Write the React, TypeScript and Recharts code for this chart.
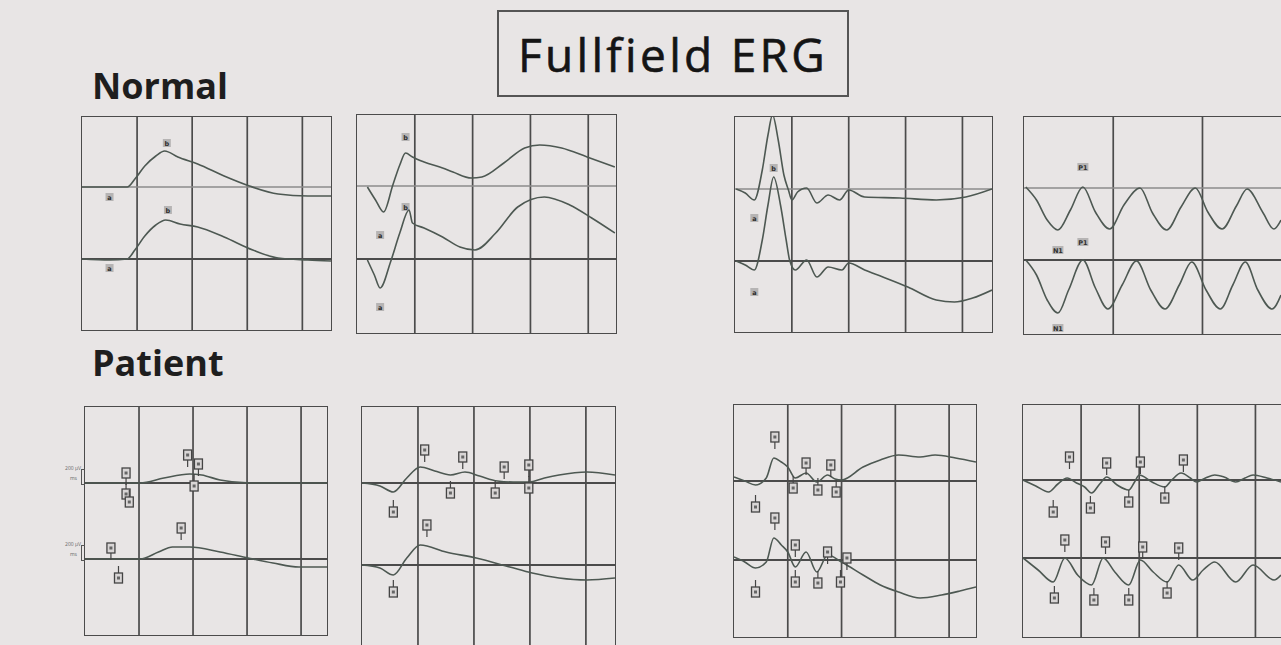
import React from 'react';
import { ComposedChart, Line, Scatter, XAxis, YAxis, ReferenceLine } from 'recharts';

const BG = '#e8e5e5';
const INK = '#4b4b4b';
const TRACE = '#4d5852';

// Every trace: [time ms, amplitude µV relative to its own baseline]
// Normal, rod response
const ROD_N_TOP = [[0, 0], [25, 0], [41, 0], [48, 32], [57, 84], [67, 124], [75, 144], [87, 120], [105, 92], [129, 44], [152, 4], [178, -28], [205, -36], [226, -36]];
const ROD_N_BOT = [[0, 0], [25, -4], [41, 0], [48, 36], [57, 92], [67, 136], [76, 156], [89, 140], [105, 128], [129, 88], [155, 36], [178, 4], [205, -4], [226, -8]];
const ROD_N_MARKS = [
  { x: 25, a: -40, t: 0, label: 'a' },
  { x: 77, a: 176, t: 0, label: 'b' },
  { x: 25, a: -36, t: 1, label: 'a' },
  { x: 78, a: 196, t: 1, label: 'b' },
];

// Normal, mixed rod-cone response
const MIX_N_TOP = [[9, -4], [16, -56], [23, -104], [31, 4], [37, 84], [42, 132], [48, 116], [58, 96], [74, 72], [83, 56], [99, 32], [108, 36], [127, 92], [145, 152], [158, 164], [177, 152], [199, 116], [223, 76]];
const MIX_N_BOT = [[9, -4], [15, -64], [20, -116], [29, -12], [37, 104], [45, 196], [48, 144], [58, 124], [74, 88], [89, 48], [102, 36], [120, 104], [139, 208], [162, 248], [184, 216], [203, 164], [223, 104]];
const MIX_N_MARKS = [
  { x: 20, a: -196, t: 0, label: 'a' },
  { x: 42, a: 196, t: 0, label: 'b' },
  { x: 20, a: -192, t: 1, label: 'a' },
  { x: 42, a: 208, t: 1, label: 'b' },
];

// Normal, photopic single flash
const CONE_N_TOP = [[1, 0], [9, -16], [17, -44], [24, 76], [29, 216], [33, 296], [38, 196], [43, 56], [47, -4], [50, -44], [55, -12], [63, 4], [72, -56], [82, -24], [92, -44], [100, -4], [114, -32], [145, -36], [177, -44], [203, -32], [226, 0]];
const CONE_N_BOT = [[1, 0], [9, -16], [17, -36], [24, 84], [29, 224], [34, 336], [40, 224], [45, 84], [48, 4], [53, -36], [63, 4], [72, -64], [82, -24], [94, -36], [100, -8], [114, -36], [130, -64], [152, -104], [177, -156], [193, -164], [209, -148], [226, -116]];
const CONE_N_MARKS = [
  { x: 17, a: -116, t: 0, label: 'a' },
  { x: 34, a: 372, t: 1, label: 'b' },
  { x: 17, a: -124, t: 1, label: 'a' },
];

// Normal, 30 Hz flicker
const FLK_N_TOP = [[1, 4], [7, -48], [13, -128], [19, -168], [26, -88], [33, 4], [40, -96], [48, -164], [56, -68], [65, 0], [72, -100], [80, -168], [88, -76], [96, 0], [103, -96], [111, -164], [119, -72], [125, -4], [134, -100], [140, -164], [144, -128]];
const FLK_N_BOT = [[1, 0], [7, -60], [13, -160], [19, -212], [25, -120], [33, 0], [40, -112], [47, -196], [55, -100], [63, -4], [71, -120], [79, -196], [87, -100], [94, -8], [102, -120], [110, -196], [117, -100], [124, -8], [131, -120], [139, -196], [144, -140]];
const FLK_N_MARKS = [
  { x: 19, a: -248, t: 0, label: 'N1' },
  { x: 33, a: 84, t: 0, label: 'P1' },
  { x: 19, a: -272, t: 1, label: 'N1' },
  { x: 33, a: 72, t: 1, label: 'P1' },
];

// Patient, rod response
const ROD_P_TOP = [[0, 0], [51, 0], [73, 5], [97, 9], [108, 8], [125, 3], [153, 0], [224, 0]];
const ROD_P_BOT = [[0, 0], [51, 0], [68, 7], [81, 12], [97, 12], [125, 7], [151, 1], [174, -4], [198, -8], [224, -8]];
const ROD_P_MARKS = [
  { x: 38, a: 10, t: 0, dir: 'down' },
  { x: 38, a: -11, t: 0, dir: 'up' },
  { x: 41, a: -19, t: 0, dir: 'up' },
  { x: 95, a: 28, t: 0, dir: 'down' },
  { x: 105, a: 19, t: 0, dir: 'down' },
  { x: 101, a: -3, t: 0, dir: 'up' },
  { x: 24, a: 11, t: 1, dir: 'down' },
  { x: 31, a: -19, t: 1, dir: 'up' },
  { x: 89, a: 31, t: 1, dir: 'down' },
];

// Patient, mixed response
const MIX_P_TOP = [[0, 0], [16, -3], [28, -9], [40, 5], [52, 16], [65, 12], [79, 8], [92, 11], [105, 7], [121, 2], [135, 1], [149, 1], [163, 5], [176, 8], [201, 11], [226, 8]];
const MIX_P_BOT = [[0, 0], [16, -3], [28, -10], [40, 7], [52, 20], [75, 13], [102, 7], [132, -2], [152, -8], [176, -13], [201, -15], [226, -13]];
const MIX_P_MARKS = [
  { x: 28, a: -29, t: 0, dir: 'up' },
  { x: 56, a: 33, t: 0, dir: 'down' },
  { x: 79, a: -10, t: 0, dir: 'up' },
  { x: 90, a: 26, t: 0, dir: 'down' },
  { x: 119, a: -10, t: 0, dir: 'up' },
  { x: 127, a: 16, t: 0, dir: 'down' },
  { x: 149, a: 18, t: 0, dir: 'down' },
  { x: 149, a: -5, t: 0, dir: 'up' },
  { x: 28, a: -27, t: 1, dir: 'up' },
  { x: 58, a: 40, t: 1, dir: 'down' },
];

// Patient, photopic single flash
const CONE_P_TOP = [[0, 4], [10, 0], [20, -4], [30, 3], [37, 23], [44, 19], [50, 14], [57, 3], [67, 8], [77, -1], [87, 6], [94, 2], [100, 1], [120, 14], [136, 21], [153, 26], [173, 24], [187, 26], [206, 23], [225, 19]];
const CONE_P_BOT = [[0, 3], [10, -2], [20, -8], [30, -2], [37, 22], [44, 15], [50, 8], [57, -7], [67, 8], [77, -12], [87, 5], [100, -2], [120, -15], [136, -25], [153, -32], [173, -38], [193, -35], [210, -31], [225, -27]];
const CONE_P_MARKS = [
  { x: 20, a: -26, t: 0, dir: 'up' },
  { x: 38, a: 44, t: 0, dir: 'down' },
  { x: 55, a: -7, t: 0, dir: 'up' },
  { x: 67, a: 18, t: 0, dir: 'down' },
  { x: 78, a: -9, t: 0, dir: 'up' },
  { x: 90, a: 16, t: 0, dir: 'down' },
  { x: 95, a: -11, t: 0, dir: 'up' },
  { x: 20, a: -32, t: 1, dir: 'up' },
  { x: 38, a: 42, t: 1, dir: 'down' },
  { x: 57, a: 15, t: 1, dir: 'down' },
  { x: 57, a: -22, t: 1, dir: 'up' },
  { x: 78, a: -23, t: 1, dir: 'up' },
  { x: 87, a: 8, t: 1, dir: 'down' },
  { x: 99, a: -22, t: 1, dir: 'up' },
  { x: 105, a: 2, t: 1, dir: 'down' },
];

// Patient, 30 Hz flicker
const FLK_P_TOP = [[0, 0], [11, -6], [22, -12], [30, -4], [38, 2], [46, -3], [53, -7], [59, -13], [66, -4], [72, 3], [81, -5], [91, -10], [96, -2], [100, 5], [111, -2], [122, -7], [128, 0], [136, 7], [144, 2], [149, -2], [157, 2], [165, 5], [173, 3], [183, -2], [191, 2], [198, 5], [210, 2], [222, -2]];
const FLK_P_BOT = [[0, 0], [13, -12], [26, -24], [36, 0], [47, -17], [59, -27], [69, 0], [79, -14], [91, -27], [101, -2], [112, -14], [124, -24], [134, -7], [146, -22], [155, -12], [165, -4], [183, -24], [198, -7], [216, -22], [222, -17]];
const FLK_P_MARKS = [
  { x: 26, a: -32, t: 0, dir: 'up' },
  { x: 40, a: 23, t: 0, dir: 'down' },
  { x: 58, a: -28, t: 0, dir: 'up' },
  { x: 72, a: 17, t: 0, dir: 'down' },
  { x: 91, a: -22, t: 0, dir: 'up' },
  { x: 101, a: 18, t: 0, dir: 'down' },
  { x: 122, a: -18, t: 0, dir: 'up' },
  { x: 138, a: 20, t: 0, dir: 'down' },
  { x: 27, a: -40, t: 1, dir: 'up' },
  { x: 36, a: 18, t: 1, dir: 'down' },
  { x: 61, a: -42, t: 1, dir: 'up' },
  { x: 71, a: 16, t: 1, dir: 'down' },
  { x: 91, a: -42, t: 1, dir: 'up' },
  { x: 103, a: 11, t: 1, dir: 'down' },
  { x: 124, a: -35, t: 1, dir: 'up' },
  { x: 134, a: 10, t: 1, dir: 'down' },
];

const GRID_MS = [50, 100, 150, 200];
const FLICKER_GRID_MS = [50, 100];
// gain labels printed left of the patient rod traces
const ROD_P_GAIN = ['200 µV', '200 µV'];

const PANELS = [
  { key: 'rodN', left: 82, top: 117, w: 249, h: 213, xMax: 226, y: [-284, 568], offset: 288, grid: GRID_MS, upper: ROD_N_TOP, lower: ROD_N_BOT, marks: ROD_N_MARKS, normal: true },
  { key: 'mixN', left: 357, top: 115, w: 259, h: 218, xMax: 224, y: [-296, 576], offset: 292, grid: GRID_MS, upper: MIX_N_TOP, lower: MIX_N_BOT, marks: MIX_N_MARKS, normal: true },
  { key: 'coneN', left: 735, top: 117, w: 257, h: 215, xMax: 226, y: [-284, 576], offset: 288, grid: GRID_MS, upper: CONE_N_TOP, lower: CONE_N_BOT, marks: CONE_N_MARKS, normal: true },
  { key: 'flkN', left: 1024, top: 117, w: 257, h: 217, xMax: 144, y: [-296, 572], offset: 288, grid: FLICKER_GRID_MS, upper: FLK_N_TOP, lower: FLK_N_BOT, marks: FLK_N_MARKS, normal: true, open: true },
  { key: 'rodP', left: 85, top: 407, w: 242, h: 228, xMax: 224, y: [-76, 152], offset: 76, grid: GRID_MS, upper: ROD_P_TOP, lower: ROD_P_BOT, marks: ROD_P_MARKS, gain: ROD_P_GAIN },
  { key: 'mixP', left: 362, top: 407, w: 253, h: 240, xMax: 226, y: [-82, 158], offset: 82, grid: GRID_MS, upper: MIX_P_TOP, lower: MIX_P_BOT, marks: MIX_P_MARKS },
  { key: 'coneP', left: 734, top: 405, w: 242, h: 232, xMax: 225, y: [-77, 155], offset: 79, grid: GRID_MS, upper: CONE_P_TOP, lower: CONE_P_BOT, marks: CONE_P_MARKS },
  { key: 'flkP', left: 1023, top: 405, w: 258, h: 232, xMax: 222, y: [-79, 153], offset: 78, grid: GRID_MS, upper: FLK_P_TOP, lower: FLK_P_BOT, marks: FLK_P_MARKS, open: true },
];

const NormalLabel = (props: any) => {
  const { cx, cy, payload } = props;
  if (cx == null || cy == null) return null;
  const w = payload.label.length > 1 ? 11 : 8;
  return (
    <g>
      <rect x={cx - w / 2} y={cy - 4} width={w} height={8} fill="#5a5a5a" opacity={0.35} />
      <text x={cx} y={cy + 2.5} textAnchor="middle" fontSize={6.5} fontWeight="bold" fontFamily="DejaVu Sans" fill="#2e2e2e">
        {payload.label}
      </text>
    </g>
  );
};

const PatientMarker = (props: any) => {
  const { cx, cy, payload } = props;
  if (cx == null || cy == null) return null;
  const stem = payload.dir === 'down' ? [cy + 5, cy + 12] : [cy - 5, cy - 12];
  return (
    <g>
      <line x1={cx} x2={cx} y1={stem[0]} y2={stem[1]} stroke="#444" strokeWidth={1.2} />
      <rect x={cx - 4} y={cy - 5} width={8} height={10} fill="#d9d6d6" stroke="#444" strokeWidth={1.3} />
      <rect x={cx - 1.5} y={cy - 1.5} width={3} height={3} fill="#666" />
    </g>
  );
};

const ErgPanel = ({ p }: { p: any }) => {
  const upper = p.upper.map(([x, a]: number[]) => ({ x, y: a + p.offset }));
  const lower = p.lower.map(([x, a]: number[]) => ({ x, y: a }));
  const marks = p.marks.map((m: any) => ({ ...m, y: m.a + (m.t === 0 ? p.offset : 0) }));
  return (
    <div style={{ position: 'absolute', left: p.left, top: p.top, width: p.w, height: p.h }}>
      <ComposedChart width={p.w} height={p.h} margin={{ top: 0, right: 0, bottom: 0, left: 0 }}>
        <XAxis type="number" dataKey="x" domain={[0, p.xMax]} hide allowDataOverflow />
        <YAxis type="number" dataKey="y" domain={p.y} hide allowDataOverflow />
        {p.grid.map((g: number) => (
          <ReferenceLine key={g} x={g} stroke={INK} strokeWidth={1.7} />
        ))}
        <ReferenceLine y={p.offset} stroke={p.normal ? '#8d8b8b' : INK} strokeWidth={p.normal ? 1.3 : 2} />
        <ReferenceLine y={0} stroke={INK} strokeWidth={p.normal ? 1.8 : 2} />
        <Line data={upper} dataKey="y" type="monotone" stroke={TRACE} strokeWidth={1.6} dot={false} isAnimationActive={false} />
        <Line data={lower} dataKey="y" type="monotone" stroke={TRACE} strokeWidth={1.6} dot={false} isAnimationActive={false} />
        <Scatter data={marks} dataKey="y" shape={p.normal ? NormalLabel : PatientMarker} isAnimationActive={false} />
      </ComposedChart>
      <div
        style={{
          position: 'absolute',
          left: -1,
          top: -1,
          width: p.open ? p.w + 40 : p.w + 2,
          height: p.h + 2,
          boxSizing: 'border-box',
          border: `1.7px solid ${INK}`,
          pointerEvents: 'none',
        }}
      />
      {p.gain &&
        p.gain.map((g: string, i: number) => {
          const frac = (p.y[1] - (i === 0 ? p.offset : 0)) / (p.y[1] - p.y[0]);
          const base = frac * p.h;
          return (
            <div key={i} style={{ position: 'absolute', left: -30, top: base - 20, width: 30, height: 20 }}>
              <div style={{ position: 'absolute', right: 4, top: 2, fontSize: 5, color: '#666', whiteSpace: 'nowrap' }}>{g}</div>
              <div style={{ position: 'absolute', right: 8, top: 12, fontSize: 5, color: '#666' }}>ms</div>
              <div style={{ position: 'absolute', right: 0, top: 6, width: 3, height: 14, borderLeft: '1.5px solid #555', borderTop: '1px solid #555', borderBottom: '1px solid #555' }} />
            </div>
          );
        })}
    </div>
  );
};

export default function App() {
  return (
    <div
      style={{
        position: 'absolute',
        left: 0,
        top: 0,
        width: 1281,
        height: 645,
        overflow: 'hidden',
        background: BG,
        fontFamily: 'Open Sans',
      }}
    >
      <div
        style={{
          position: 'absolute',
          left: 497,
          top: 10,
          width: 352,
          height: 87,
          boxSizing: 'border-box',
          border: '2px solid #555',
          display: 'flex',
          alignItems: 'center',
          justifyContent: 'center',
          fontSize: 46,
          letterSpacing: 3.3,
          color: '#151515',
          lineHeight: 1,
          WebkitTextStroke: '0.6px #151515',
        }}
      >
        Fullfield ERG
      </div>
      <div style={{ position: 'absolute', left: 92, top: 68, fontSize: 36, fontWeight: 700, lineHeight: 1, color: '#1e1e1e' }}>
        Normal
      </div>
      <div style={{ position: 'absolute', left: 92, top: 345, fontSize: 36, fontWeight: 700, lineHeight: 1, color: '#1e1e1e' }}>
        Patient
      </div>
      {PANELS.map((p) => (
        <ErgPanel key={p.key} p={p} />
      ))}
    </div>
  );
}
